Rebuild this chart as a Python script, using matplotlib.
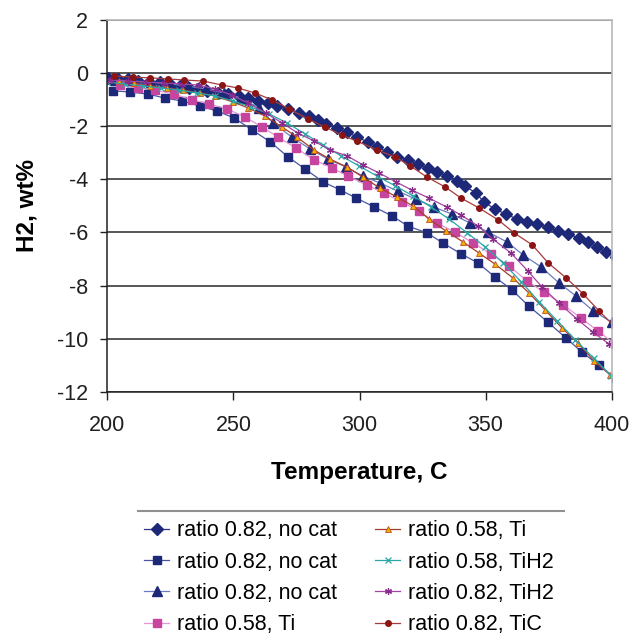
import matplotlib
matplotlib.use("Agg")
import matplotlib.pyplot as plt
from matplotlib.lines import Line2D

plt.rcParams['font.family'] = ['Liberation Sans', 'DejaVu Sans']
plt.rcParams['axes.unicode_minus'] = False

# ratio 0.82, no cat (diamonds)
t_nocat1 = [200.3, 204.2, 208.2, 212.2, 216.5, 220.9, 224.8, 228.8, 232.4, 236.0,
            239.5, 243.9, 247.9, 252.2, 255.8, 259.8, 263.7, 267.3, 271.7, 276.0,
            280.0, 283.6, 286.7, 291.1, 295.1, 299.0, 303.4, 306.9, 310.9, 314.9,
            319.2, 323.2, 327.2, 330.7, 334.7, 338.7, 341.8, 346.2, 349.4, 353.7,
            358.1, 362.5, 366.4, 370.4, 374.7, 378.7, 382.7, 387.0, 390.6, 394.2,
            397.7, 401.6]
h_nocat1 = [-0.18, -0.22, -0.22, -0.30, -0.34, -0.34, -0.41, -0.49, -0.56, -0.60,
            -0.68, -0.75, -0.79, -0.86, -0.94, -1.05, -1.13, -1.24, -1.35, -1.50,
            -1.62, -1.77, -1.92, -2.07, -2.22, -2.41, -2.60, -2.78, -2.97, -3.16,
            -3.27, -3.42, -3.57, -3.72, -3.87, -4.06, -4.25, -4.52, -4.86, -5.12,
            -5.31, -5.50, -5.61, -5.69, -5.80, -5.95, -6.06, -6.21, -6.36, -6.55,
            -6.74, -6.93]

# ratio 0.82, no cat (squares)
t_nocat2 = [202.3, 209.0, 216.1, 222.9, 229.6, 236.8, 243.5, 250.3, 257.4, 264.6,
            271.7, 278.4, 285.6, 292.3, 298.6, 305.8, 312.9, 319.2, 326.8, 333.1,
            340.3, 347.0, 353.7, 360.5, 367.2, 374.7, 381.9, 388.2, 394.9, 401.6]
h_nocat2 = [-0.67, -0.71, -0.79, -0.94, -1.05, -1.24, -1.43, -1.69, -2.14, -2.59,
            -3.16, -3.61, -4.10, -4.40, -4.70, -5.04, -5.38, -5.76, -6.02, -6.40,
            -6.81, -7.15, -7.68, -8.17, -8.78, -9.38, -9.98, -10.51, -11.00, -11.49]

# ratio 0.82, no cat (triangles)
t_nocat3 = [203.1, 210.2, 217.3, 224.9, 232.0, 239.1, 246.3, 253.0, 260.2, 265.7,
            273.2, 280.4, 287.5, 294.7, 301.4, 308.1, 315.3, 322.4, 329.6, 336.7,
            343.9, 351.0, 358.5, 364.9, 372.0, 379.2, 385.9, 392.7, 400.0]
h_nocat3 = [-0.26, -0.30, -0.34, -0.41, -0.49, -0.60, -0.75, -0.94, -1.31, -1.88,
            -2.41, -2.86, -3.24, -3.54, -3.88, -4.14, -4.45, -4.75, -5.05, -5.31,
            -5.65, -5.99, -6.36, -6.85, -7.30, -7.91, -8.40, -8.96, -9.38]

# ratio 0.58, Ti (magenta squares)
t_ti_a = [205.0, 212.2, 218.9, 226.4, 233.6, 240.3, 247.5, 254.6, 261.3, 267.7,
          274.8, 282.0, 289.1, 295.4, 303.0, 309.7, 316.9, 323.6, 330.7, 337.9,
          345.0, 352.2, 359.3, 366.4, 373.2, 380.7, 387.8, 394.6, 401.4]
h_ti_a = [-0.45, -0.56, -0.64, -0.79, -1.01, -1.16, -1.35, -1.65, -2.03, -2.41,
          -2.82, -3.27, -3.57, -3.88, -4.22, -4.52, -4.86, -5.20, -5.65, -5.99,
          -6.40, -6.81, -7.26, -7.83, -8.25, -8.73, -9.22, -9.72, -10.22]

# ratio 0.58, Ti (brown line, small triangles)
t_ti_b = [204.7, 210.6, 216.9, 223.7, 230.0, 236.8, 242.7, 249.9, 255.8, 262.6,
          269.3, 275.2, 282.0, 288.3, 295.1, 301.4, 308.1, 314.9, 321.3, 327.6,
          334.3, 341.1, 347.4, 353.7, 360.9, 367.2, 373.6, 380.3, 386.7, 393.0,
          399.4]
h_ti_b = [-0.30, -0.37, -0.49, -0.56, -0.64, -0.75, -0.86, -1.09, -1.31, -1.62,
          -2.03, -2.41, -2.90, -3.24, -3.54, -3.92, -4.33, -4.67, -5.01, -5.50,
          -5.95, -6.36, -6.78, -7.19, -7.72, -8.28, -8.92, -9.60, -10.17, -10.84,
          -11.37]

# ratio 0.58, TiH2
t_tih2_a = [200.0, 207.0, 214.2, 221.3, 228.4, 235.6, 242.7, 249.9, 257.0, 264.2,
            271.3, 278.4, 285.6, 292.7, 299.9, 307.0, 314.2, 321.3, 328.5, 335.6,
            342.7, 349.9, 357.0, 364.2, 371.3, 378.5, 385.6, 392.8, 399.9]
h_tih2_a = [-0.34, -0.41, -0.49, -0.56, -0.64, -0.75, -0.86, -1.05, -1.28, -1.54,
            -1.88, -2.29, -2.71, -3.12, -3.50, -3.88, -4.25, -4.63, -5.05, -5.50,
            -6.02, -6.55, -7.15, -7.87, -8.62, -9.34, -10.05, -10.73, -11.41]

# ratio 0.82, TiH2
t_tih2_b = [201.1, 208.2, 215.4, 222.5, 229.6, 236.4, 242.7, 249.4, 255.8, 262.9,
            269.3, 275.6, 282.0, 288.3, 295.1, 301.4, 307.7, 314.5, 320.8, 327.6,
            334.7, 340.3, 347.0, 352.9, 360.1, 366.8, 372.4, 379.1, 386.3, 392.6,
            399.0]
h_tih2_b = [-0.26, -0.30, -0.34, -0.37, -0.41, -0.45, -0.60, -0.83, -1.13, -1.50,
            -1.88, -2.26, -2.56, -2.90, -3.12, -3.46, -3.76, -4.10, -4.41, -4.71,
            -5.05, -5.35, -5.76, -6.25, -6.78, -7.46, -8.06, -8.66, -9.27, -9.76,
            -10.21]

# ratio 0.82, TiC
t_tic = [202.7, 210.2, 216.9, 224.1, 230.4, 238.0, 245.5, 251.8, 258.6, 265.3,
         272.1, 279.6, 286.3, 293.1, 299.0, 307.0, 314.2, 320.2, 326.8, 334.0,
         340.3, 347.4, 355.0, 361.3, 368.5, 374.8, 382.0, 388.7, 395.0, 401.5]
h_tic = [-0.11, -0.15, -0.18, -0.22, -0.26, -0.30, -0.45, -0.56, -0.75, -1.01,
         -1.35, -1.73, -2.03, -2.34, -2.56, -2.90, -3.16, -3.50, -3.92, -4.29,
         -4.71, -5.08, -5.53, -6.02, -6.47, -7.15, -7.72, -8.32, -8.96, -9.58]

labels = ['ratio 0.82, no cat', 'ratio 0.82, no cat', 'ratio 0.82, no cat',
          'ratio 0.58, Ti', 'ratio 0.58, Ti', 'ratio 0.58, TiH2',
          'ratio 0.82, TiH2', 'ratio 0.82, TiC']

W = 641
fig = plt.figure(figsize=(6.41, 6.41), dpi=100)
ax = fig.add_axes([107.3 / W, 1 - 391.7 / W, (611.7 - 107.3) / W, (391.7 - 20) / W])

navy = '#1e2878'
ax.plot(t_nocat1, h_nocat1, color='#2a348a', lw=0.9, marker='D', ms=6,
        mfc=navy, mec=navy, label=labels[0])
ax.plot(t_nocat2, h_nocat2, color='#4a56a2', lw=0.9, marker='s', ms=5.7,
        mfc=navy, mec=navy, label=labels[1])
ax.plot(t_nocat3, h_nocat3, color='#6a7cc0', lw=0.9, marker='^', ms=7,
        mfc=navy, mec=navy, label=labels[2])
ax.plot(t_ti_a, h_ti_a, color='#e494d4', lw=0.9, marker='s', ms=5.2,
        mfc='#c8459f', mec='#c8459f', label=labels[3])
ax.plot(t_ti_b, h_ti_b, color='#a63c2a', lw=0.9, marker='^', ms=4,
        mfc='#f4b000', mec='#c05020', mew=0.6, label=labels[4])
ax.plot(t_tih2_a, h_tih2_a, color='#2aa6a6', lw=0.9, marker='x', ms=4,
        mfc='#2aa6a6', mec='#2aa6a6', mew=0.9, label=labels[5])
ax.plot(t_tih2_b, h_tih2_b, color='#a444a4', lw=0.9, marker=(6, 2, 0), ms=5,
        mec='#8a2a8a', mew=0.9, label=labels[6])
ax.plot(t_tic, h_tic, color='#a83a3a', lw=0.9, marker='o', ms=4,
        mfc='#8b1414', mec='#8b1414', label=labels[7])

ax.set_xlim(200, 400)
ax.set_ylim(-12, 2)
ax.set_xticks([200, 250, 300, 350, 400])
ax.set_yticks([2, 0, -2, -4, -6, -8, -10, -12])
ax.grid(axis='y', color='#3a3a3a', lw=1.2)
ax.set_axisbelow(True)
for side in ['top', 'right']:
    ax.spines[side].set_color('#b8b8b8')
    ax.spines[side].set_linewidth(1.2)
for side in ['left', 'bottom']:
    ax.spines[side].set_color('#202020')
    ax.spines[side].set_linewidth(1.1)
ax.tick_params(axis='y', direction='out', length=5, width=1, pad=9,
               labelsize=15.5, colors='#202020')
ax.tick_params(axis='x', direction='out', length=6, width=1, pad=11,
               labelsize=15.5, colors='#202020')

fig.text(27 / W, 1 - 206 / W, 'H2, wt%', rotation=90, ha='center', va='center',
         fontsize=17.5, fontweight='bold')
fig.text(359.5 / W, 1 - 473 / W, 'Temperature, C', ha='center', va='center',
         fontsize=17.5, fontweight='bold')

leg = fig.legend(loc='upper left', bbox_to_anchor=(140 / W, 1 - 516 / W), ncol=2,
                 frameon=False, fontsize=15.5, handlelength=1.15, handletextpad=0.35,
                 columnspacing=1.8, labelspacing=0.48, borderpad=0.2, borderaxespad=0)
fig.add_artist(Line2D([138 / W, 564 / W], [1 - 510.7 / W, 1 - 510.7 / W],
                      color='#909090', lw=1.5))

fig.savefig('out.png', dpi=100)
